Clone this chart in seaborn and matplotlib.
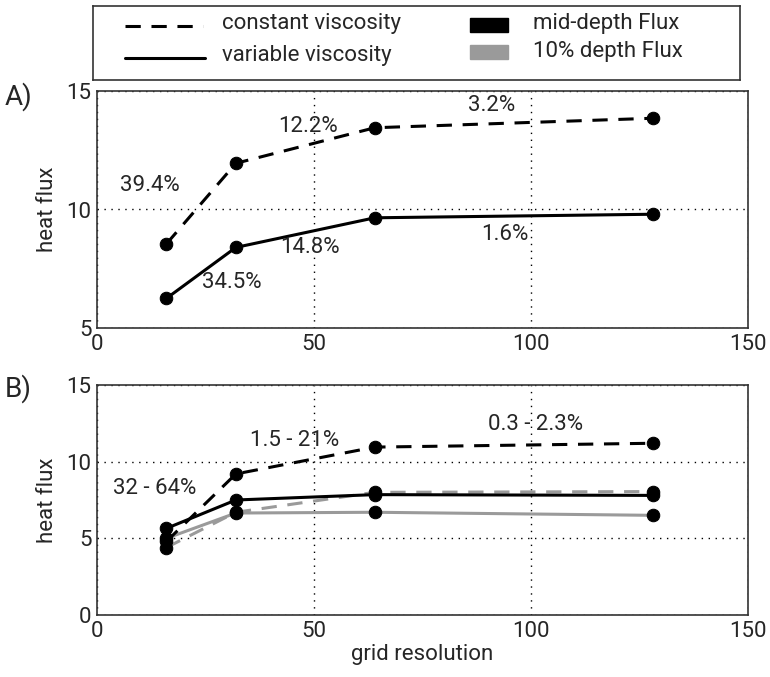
import matplotlib
matplotlib.use("Agg")
import matplotlib.pyplot as plt
import seaborn as sns
import pandas as pd
from matplotlib.lines import Line2D
from matplotlib.patches import Rectangle

sns.set_style("white")
plt.rcParams['font.family'] = ['Roboto', 'DejaVu Sans']

grid_res = [16, 32, 64, 128]

# Panel A (mid-depth flux)
a_const = [8.55, 11.95, 13.45, 13.85]
a_var = [6.25, 8.4, 9.65, 9.8]

# Panel B
b_const_mid = [4.8, 9.2, 10.95, 11.2]
b_var_mid = [5.65, 7.5, 7.85, 7.8]
b_const_10 = [4.4, 6.7, 8.0, 8.05]
b_var_10 = [5.0, 6.65, 6.7, 6.5]

a_labels = ["39.4%", "12.2%", "3.2%", "34.5%", "14.8%", "1.6%"]
a_label_x = [12.2, 48.6, 91, 31.1, 49, 94]
a_label_y = [11.0, 13.5, 14.4, 6.9, 8.4, 8.95]

b_labels = ["32 - 64%", "1.5 - 21%", "0.3 - 2.3%"]
b_label_x = [13.4, 45.6, 101]
b_label_y = [8.27, 11.4, 12.4]

GRAY = "#9a9a9a"
W, H = 770, 677
fig = plt.figure(figsize=(W / 100, H / 100), dpi=100)

def fr(x0, y0, x1, y1):
    return [x0 / W, 1 - y1 / H, (x1 - x0) / W, (y1 - y0) / H]

axA = fig.add_axes(fr(97, 91, 748, 328))
axB = fig.add_axes(fr(97, 385, 748, 615))
axL = fig.add_axes(fr(93, 6, 740, 80))

DASH = (5, 3.5)

def draw(ax, yvals, color, dashed):
    df = pd.DataFrame({"x": grid_res, "y": yvals})
    sns.lineplot(data=df, x="x", y="y", ax=ax, color=color, lw=2.2,
                 marker="o", markersize=9, markerfacecolor="black",
                 markeredgecolor="black", zorder=3)
    ln = ax.lines[-1]
    if dashed:
        ln.set_dashes(DASH)

draw(axA, a_const, "black", True)
draw(axA, a_var, "black", False)

draw(axB, b_const_10, GRAY, True)
draw(axB, b_var_10, GRAY, False)
draw(axB, b_const_mid, "black", True)
draw(axB, b_var_mid, "black", False)

FS = 16
for ax, ylim, yt in [(axA, (5, 15), [5, 10, 15]), (axB, (0, 15), [0, 5, 10, 15])]:
    ax.set_xlim(0, 150)
    ax.set_ylim(*ylim)
    ax.set_xticks([0, 50, 100, 150])
    ax.set_yticks(yt)
    ax.grid(True, linestyle=(0, (1, 4)), color="black", lw=1.0)
    ax.tick_params(direction="in", length=4, labelsize=FS, pad=4, color="black")
    for s in ax.spines.values():
        s.set_color("#333333")
        s.set_linewidth(1.2)
    ax.set_ylabel("heat flux", fontsize=FS, labelpad=6)
    ax.set_xlabel("")

axB.set_xlabel("grid resolution", fontsize=FS, labelpad=2)

for t, x, y in zip(a_labels, a_label_x, a_label_y):
    axA.text(x, y, t, fontsize=FS, ha="center", va="center")
for t, x, y in zip(b_labels, b_label_x, b_label_y):
    axB.text(x, y, t, fontsize=FS, ha="center", va="center")

fig.text(5 / W, 1 - 97 / H, "A)", fontsize=20, ha="left", va="center")
fig.text(5 / W, 1 - 389 / H, "B)", fontsize=20, ha="left", va="center")

# legend box
axL.set_xlim(0, 647)
axL.set_ylim(74, 0)
axL.set_xticks([])
axL.set_yticks([])
for s in axL.spines.values():
    s.set_color("#333333")
    s.set_linewidth(1.2)
l1 = Line2D([32, 110], [20, 20], color="black", lw=2.2)
l1.set_dashes(DASH)
axL.add_line(l1)
axL.add_line(Line2D([32, 112], [52, 52], color="black", lw=2.2))
axL.text(129, 17, "constant viscosity", fontsize=FS, va="center", ha="left")
axL.text(129, 50, "variable viscosity", fontsize=FS, va="center", ha="left")
axL.add_patch(Rectangle((377, 12), 38, 14, color="black"))
axL.add_patch(Rectangle((377, 39), 38, 14, color=GRAY))
axL.text(440, 17, "mid-depth Flux", fontsize=FS, va="center", ha="left")
axL.text(440, 45, "10% depth Flux", fontsize=FS, va="center", ha="left")

fig.savefig("out.png", dpi=100)
